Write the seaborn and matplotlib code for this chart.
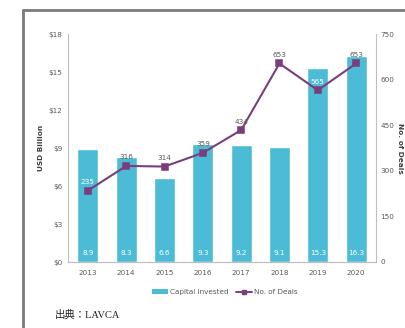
import matplotlib
matplotlib.use("Agg")
import matplotlib.pyplot as plt
from matplotlib.lines import Line2D
from matplotlib.patches import Patch
import seaborn as sns
import pandas as pd

years = ["2013", "2014", "2015", "2016", "2017", "2018", "2019", "2020"]
capital = [8.9, 8.3, 6.6, 9.3, 9.2, 9.1, 15.3, 16.3]
deals = [235, 316, 314, 359, 434, 653, 565, 653]
left_ticks = [0, 3, 6, 9, 12, 15, 18]
right_ticks = [0, 150, 300, 450, 600, 750]

df = pd.DataFrame({"year": years, "capital": capital, "deals": deals})

sns.set_theme(style="white")
plt.rcParams["font.family"] = ["DejaVu Sans", "Noto Sans CJK JP"]

BAR = "#4cbcd6"
LINE = "#7b3d7b"
TXT = "#595959"

fig = plt.figure(figsize=(4.05, 3.28), dpi=100)
fig.patch.set_facecolor("white")
ax = fig.add_axes([68/405, 1-262/328, (376-68)/405, (262-34)/328])

sns.barplot(data=df, x="year", y="capital", color=BAR, width=0.55,
            saturation=1, ax=ax)
ax.set_xlim(-0.52, 7.52)
ax.set_ylim(0, 18)
ax.set_yticks(left_ticks)
ax.set_yticklabels([f"${t}" for t in left_ticks])
ax.set_xlabel("")
ax.set_ylabel("USD Billion", fontsize=5.3, fontweight="bold", color="#404040")
ax.yaxis.set_label_coords((44 - 68) / 308, 0.5)
for i, v in enumerate(capital):
    ax.text(i, 0.5, f"{v}", ha="center", va="bottom", color="white", fontsize=5.2)

ax2 = ax.twinx()
sns.pointplot(data=df, x="year", y="deals", color=LINE, markers="s",
              markersize=5, linewidth=1.5, ax=ax2)
ax2.set_xlim(-0.52, 7.52)
ax2.set_ylim(0, 750)
ax2.set_yticks(right_ticks)
ax2.set_ylabel("No. of Deals", fontsize=5.3, fontweight="bold", color="#404040",
               rotation=-90, va="center")
ax2.yaxis.set_label_coords((400 - 68) / 308, 0.5)
ax2.set_xlabel("")
for i, v in enumerate(deals):
    c = "white" if v in (235, 565) else TXT
    ax2.text(i, v + 18, f"{v}", ha="center", va="bottom", color=c, fontsize=5.2)

for a in (ax, ax2):
    a.tick_params(axis="both", labelsize=5.2, colors=TXT, length=0, pad=4)
    a.spines["top"].set_visible(False)
    for s in ("left", "right", "bottom"):
        a.spines[s].set_color("#bfbfbf")
        a.spines[s].set_linewidth(0.8)
    a.grid(False)
ax.spines["right"].set_visible(False)
ax2.spines["left"].set_visible(False)
ax.tick_params(axis="x", pad=6)
ax2.tick_params(axis="y", pad=3)

handles = [Patch(facecolor=BAR, edgecolor="none"),
           Line2D([0], [0], color=LINE, marker="s", markersize=3, linewidth=1.4)]
fig.legend(handles, ["Capital Invested", "No. of Deals"], loc="center",
           bbox_to_anchor=(225/405, 1-292/328), ncol=2, frameon=False,
           fontsize=5.2, labelcolor=TXT, handlelength=2.2, handleheight=0.6,
           columnspacing=1.0, handletextpad=0.3)

fig.text(55/405, 1-315/328, "出典：LAVCA", fontsize=7.5, color="#222222",
         family=["Liberation Serif", "Noto Sans CJK JP"], va="center", ha="left")

frame_c = "#7a7a7a"
fig.add_artist(Line2D([23/405, 1.0], [1-10/328, 1-10/328], color=frame_c, linewidth=2))
fig.add_artist(Line2D([23/405, 23/405], [0, 1-10/328], color=frame_c, linewidth=2))

fig.savefig("out.png", dpi=100)
